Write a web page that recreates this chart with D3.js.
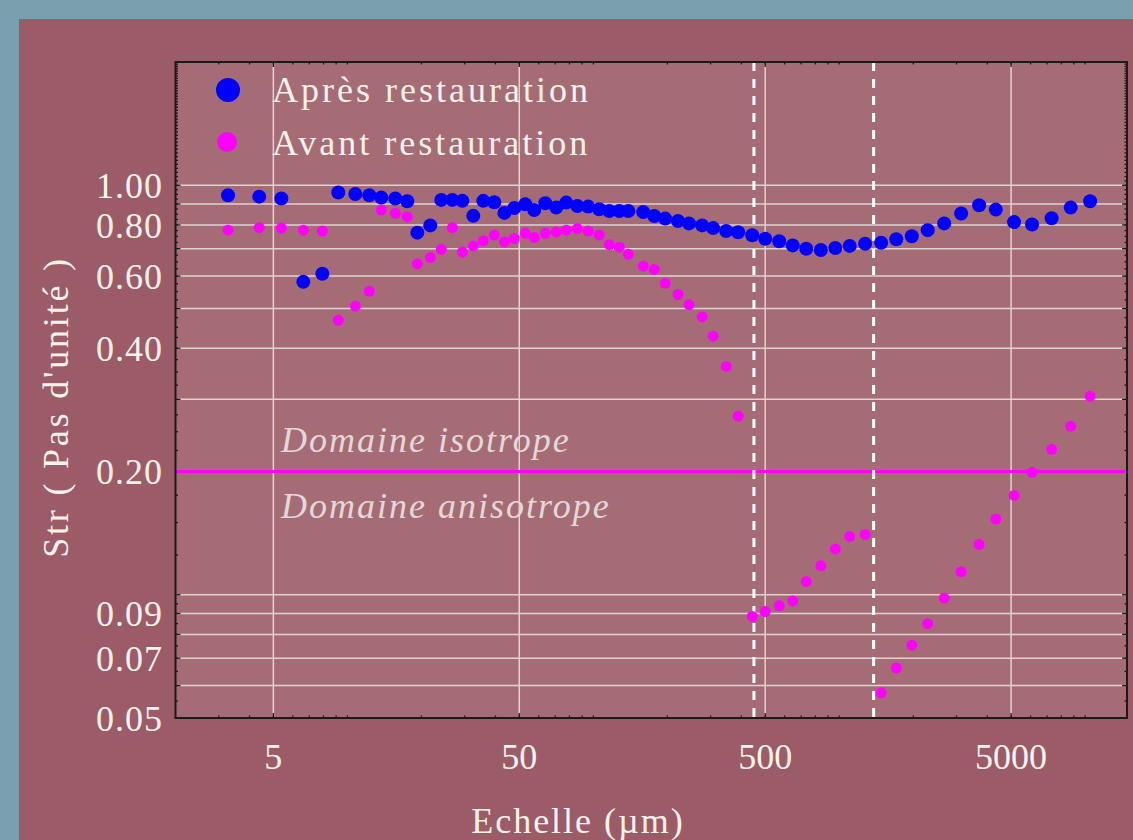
<!DOCTYPE html>
<html>
<head>
<meta charset="utf-8">
<script src="https://cdn.jsdelivr.net/npm/d3@7"></script>
<style>
html,body{margin:0;padding:0;background:#7a9fae;}
svg{display:block;}
</style>
</head>
<body>
<svg id="chart" width="1133" height="840"></svg>
<script>
// ---- data ----
const scales = [3.27, 4.38, 5.39, 6.62, 7.91, 9.18, 10.77, 12.28, 13.74, 15.66, 17.52, 19.25, 21.73, 24.09, 26.72, 29.35, 32.51, 35.7, 39.56, 43.5, 47.7, 52.9, 57.5, 63.8, 70.7, 77.6, 86.1, 95.3, 105.7, 116.1, 127.6, 138.8, 159.6, 177, 196, 221, 245, 277, 307, 347, 388, 443, 500, 570, 647, 734, 842, 964, 1103, 1275, 1481, 1706, 1973, 2290, 2672, 3133, 3706, 4333, 5141, 6082, 7307, 8736, 10476];
const apres = [0.945,0.938,0.928,0.581,0.608,0.960,0.952,0.945,0.933,0.928,0.914,0.766,0.798,0.921,0.921,0.916,0.842,0.916,0.909,0.856,0.880,0.899,0.870,0.904,0.882,0.907,0.890,0.887,0.874,0.865,0.865,0.865,0.860,0.841,0.829,0.818,0.807,0.798,0.786,0.773,0.768,0.755,0.740,0.730,0.713,0.700,0.695,0.703,0.711,0.720,0.724,0.738,0.751,0.777,0.807,0.853,0.894,0.872,0.813,0.802,0.831,0.882,0.914];
const avant = [0.777,0.788,0.786,0.777,0.773,0.468,0.507,0.551,0.870,0.854,0.838,0.643,0.666,0.697,0.788,0.687,0.711,0.732,0.756,0.727,0.741,0.763,0.745,0.763,0.769,0.777,0.784,0.773,0.756,0.716,0.706,0.678,0.635,0.623,0.576,0.541,0.511,0.477,0.428,0.361,0.273,0.0885,0.0910,0.0941,0.0966,0.1077,0.1177,0.1293,0.1388,0.1404,0.0576,0.0662,0.0753,0.0850,0.0981,0.1138,0.1327,0.1531,0.1748,0.1990,0.2265,0.2578,0.3052];
const seriesNames = ["Après restauration", "Avant restauration"];
const xTickLabels = [5, 50, 500, 5000];
const yTickLabels = [1.0, 0.8, 0.6, 0.4, 0.2, 0.09, 0.07, 0.05];
const yGridValues = [1.0, 0.9, 0.8, 0.7, 0.6, 0.5, 0.4, 0.3, 0.2, 0.1, 0.09, 0.08, 0.07, 0.06];
const threshold = 0.2;
const dashedScales = [450, 1380];
const zoneLabels = ["Domaine isotrope", "Domaine anisotrope"];
const xTitle = "Echelle (µm)";
const yTitle = "Str ( Pas d'unité )";

// ---- layout ----
const svg = d3.select("#chart");
const L = 175.5, R = 1127, T = 62, B = 718;
const FONT = "'Liberation Serif', 'DejaVu Serif', serif";
const TXT = "#fbf2ec";

svg.append("rect").attr("x", 0).attr("y", 0).attr("width", 1133).attr("height", 840).attr("fill", "#7a9fae");
svg.append("rect").attr("x", 19).attr("y", 19).attr("width", 1114).attr("height", 821).attr("fill", "#9b5c68");
svg.append("rect").attr("x", L).attr("y", T).attr("width", R - L).attr("height", B - T).attr("fill", "#a66c76");

const x = d3.scaleLog().domain([2, 14800]).range([L, R]);
const y = d3.scaleLog().domain([0.05, 2.0]).range([B, T]);

// grid
const grid = svg.append("g").attr("stroke", "#ddd3d3").attr("stroke-width", 1.5);
grid.selectAll("line.gy").data(yGridValues).enter().append("line")
  .attr("x1", L).attr("x2", R).attr("y1", d => y(d)).attr("y2", d => y(d));
grid.selectAll("line.gx").data(xTickLabels).enter().append("line")
  .attr("x1", d => x(d)).attr("x2", d => x(d)).attr("y1", T).attr("y2", B);

// ticks (inward on all four sides)
const xMinor = [];
for (let k = 0; k <= 4; k++) for (let d = 1; d <= 9; d++) { const v = d * Math.pow(10, k); if (v > 2 && v < 14800) xMinor.push(v); }
const yMinor = [];
for (let v = 0.055; v < 0.1; v += 0.005) yMinor.push(+v.toFixed(3));
for (let v = 0.125; v < 2.0; v += 0.025) yMinor.push(+v.toFixed(3));

const ax = svg.append("g").attr("stroke", "#1a1a1a").attr("stroke-width", 1.3);
function xTicks(vals, len) {
  ax.selectAll(null).data(vals).enter().append("line")
    .attr("x1", d => x(d)).attr("x2", d => x(d)).attr("y1", B).attr("y2", B - len);
  ax.selectAll(null).data(vals).enter().append("line")
    .attr("x1", d => x(d)).attr("x2", d => x(d)).attr("y1", T).attr("y2", T + len);
}
function yTicks(vals, len) {
  ax.selectAll(null).data(vals).enter().append("line")
    .attr("x1", L).attr("x2", L + len).attr("y1", d => y(d)).attr("y2", d => y(d));
  ax.selectAll(null).data(vals).enter().append("line")
    .attr("x1", R).attr("x2", R - len).attr("y1", d => y(d)).attr("y2", d => y(d));
}
xTicks(xMinor, 2.5);
xTicks(xTickLabels, 5);
yTicks(yMinor, 2.5);
yTicks(yGridValues.concat([0.05]), 5);

// threshold line
svg.append("line").attr("x1", L).attr("x2", R).attr("y1", y(threshold)).attr("y2", y(threshold))
  .attr("stroke", "#ff00ff").attr("stroke-width", 3);

// dashed vertical lines
svg.selectAll("line.dash").data(dashedScales).enter().append("line")
  .attr("x1", d => x(d)).attr("x2", d => x(d)).attr("y1", T).attr("y2", B)
  .attr("stroke", "#ffffff").attr("stroke-width", 3).attr("stroke-dasharray", "9,8");

// zone labels
svg.append("text").attr("x", 281).attr("y", 452).text(zoneLabels[0])
  .attr("font-family", FONT).attr("font-style", "italic").attr("font-size", 36).attr("letter-spacing", 2)
  .attr("fill", "#e2d8d9");
svg.append("text").attr("x", 281).attr("y", 518).text(zoneLabels[1])
  .attr("font-family", FONT).attr("font-style", "italic").attr("font-size", 36).attr("letter-spacing", 2)
  .attr("fill", "#e2d8d9");

// points
svg.append("g").selectAll("circle").data(scales.map((s, i) => [s, avant[i]])).enter().append("circle")
  .attr("cx", d => x(d[0])).attr("cy", d => y(d[1])).attr("r", 5.5).attr("fill", "#ff00ff");
svg.append("g").selectAll("circle").data(scales.map((s, i) => [s, apres[i]])).enter().append("circle")
  .attr("cx", d => x(d[0])).attr("cy", d => y(d[1])).attr("r", 7).attr("fill", "#0000ff");

// frame
svg.append("rect").attr("x", L).attr("y", T).attr("width", R - L).attr("height", B - T)
  .attr("fill", "none").attr("stroke", "#1a1a1a").attr("stroke-width", 2);

// tick labels
svg.selectAll("text.yl").data(yTickLabels).enter().append("text")
  .attr("x", 163).attr("y", d => y(d)).attr("dy", "0.35em").attr("text-anchor", "end")
  .attr("font-family", FONT).attr("font-size", 36).attr("letter-spacing", 1).attr("fill", TXT)
  .text(d => d3.format(".2f")(d));
svg.selectAll("text.xl").data(xTickLabels).enter().append("text")
  .attr("x", d => x(d)).attr("y", 769).attr("text-anchor", "middle")
  .attr("font-family", FONT).attr("font-size", 36).attr("fill", TXT).text(d => d);

// axis titles
svg.append("text").attr("x", 578).attr("y", 833).attr("text-anchor", "middle")
  .attr("font-family", FONT).attr("font-size", 36).attr("letter-spacing", 2).attr("fill", TXT).text(xTitle);
svg.append("text").attr("transform", "translate(68,407) rotate(-90)").attr("text-anchor", "middle")
  .attr("font-family", FONT).attr("font-size", 36).attr("letter-spacing", 2.8).attr("fill", TXT).text(yTitle);

// legend
const lg = svg.append("g");
lg.append("circle").attr("cx", 228).attr("cy", 90).attr("r", 12).attr("fill", "#0000ff");
lg.append("circle").attr("cx", 227).attr("cy", 142).attr("r", 10).attr("fill", "#ff00ff");
lg.selectAll("text").data(seriesNames).enter().append("text")
  .attr("x", 272).attr("y", (d, i) => 102 + i * 53)
  .attr("font-family", FONT).attr("font-size", 36).attr("letter-spacing", 3).attr("fill", TXT).text(d => d);
</script>
</body>
</html>
